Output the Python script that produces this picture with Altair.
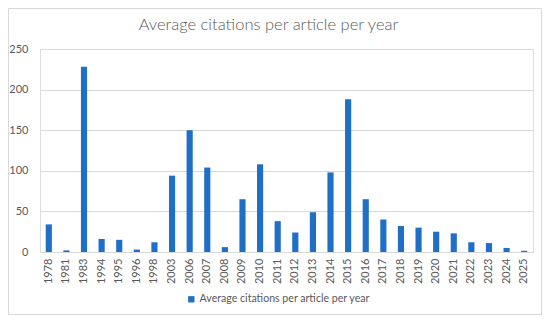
import altair as alt
import pandas as pd

years = ["1978", "1981", "1983", "1994", "1995", "1996", "1998", "2003", "2006", "2007",
         "2008", "2009", "2010", "2011", "2012", "2013", "2014", "2015", "2016", "2017",
         "2018", "2019", "2020", "2021", "2022", "2023", "2024", "2025"]
values = [34, 2, 228, 16, 15, 3, 12, 94, 150, 104,
          6, 65, 108, 38, 24, 49, 98, 188, 65, 40,
          32, 30, 25, 23, 12, 11, 5, 1.5]
series = "Average citations per article per year"
y_ticks = [0, 50, 100, 150, 200, 250]

df = pd.DataFrame({"year": years, "value": values, "series": series})

FONT = "Lato"
GREY = "#595959"
GRID = "#d9d9d9"
BLUE = "#1f6fc6"

bars = alt.Chart(df).mark_bar(color=BLUE).encode(
    x=alt.X("year:N", sort=years,
            scale=alt.Scale(paddingInner=0.65, paddingOuter=0.325),
            axis=alt.Axis(title=None, labelAngle=270, labelPadding=6, ticks=False,
                          domainColor=GRID, labelColor=GREY, labelFont=FONT,
                          labelFontSize=11, grid=False)),
    y=alt.Y("value:Q", scale=alt.Scale(domain=[0, 250], nice=False),
            axis=alt.Axis(title=None, values=y_ticks, ticks=False, domain=False,
                          labelPadding=12, gridColor=GRID, labelColor=GREY,
                          labelFont=FONT, labelFontSize=11)),
    color=alt.Color("series:N", scale=alt.Scale(range=[BLUE]),
                    legend=alt.Legend(title=None, orient="none", legendX=146, legendY=245,
                                      symbolType="square", symbolSize=40,
                                      symbolStrokeWidth=0, labelFont=FONT,
                                      labelFontSize=10.6, labelColor=GREY, labelLimit=400,
                                      symbolOffset=0, labelOffset=3)),
)

border_df = pd.DataFrame({"k": [0]})
border = alt.Chart(border_df).mark_rect(filled=False, stroke=GRID, strokeWidth=1).encode(
    x=alt.value(-31.5), x2=alt.value(501.5), y=alt.value(-40.5), y2=alt.value(265.5)
)

chart = alt.layer(border, bars).properties(
    width=493, height=203,
    autosize=alt.AutoSizeParams(type="none"),
    padding={"left": 32, "top": 41, "right": 9, "bottom": 63},
    title=alt.TitleParams(series, font=FONT, fontSize=16.5, fontWeight=300,
                          color=GREY, anchor="middle", dx=-18, offset=0, dy=25),
).configure_view(stroke=None).configure(background="white")

chart.save("out.html", embed_options={"renderer": "svg", "actions": False})
